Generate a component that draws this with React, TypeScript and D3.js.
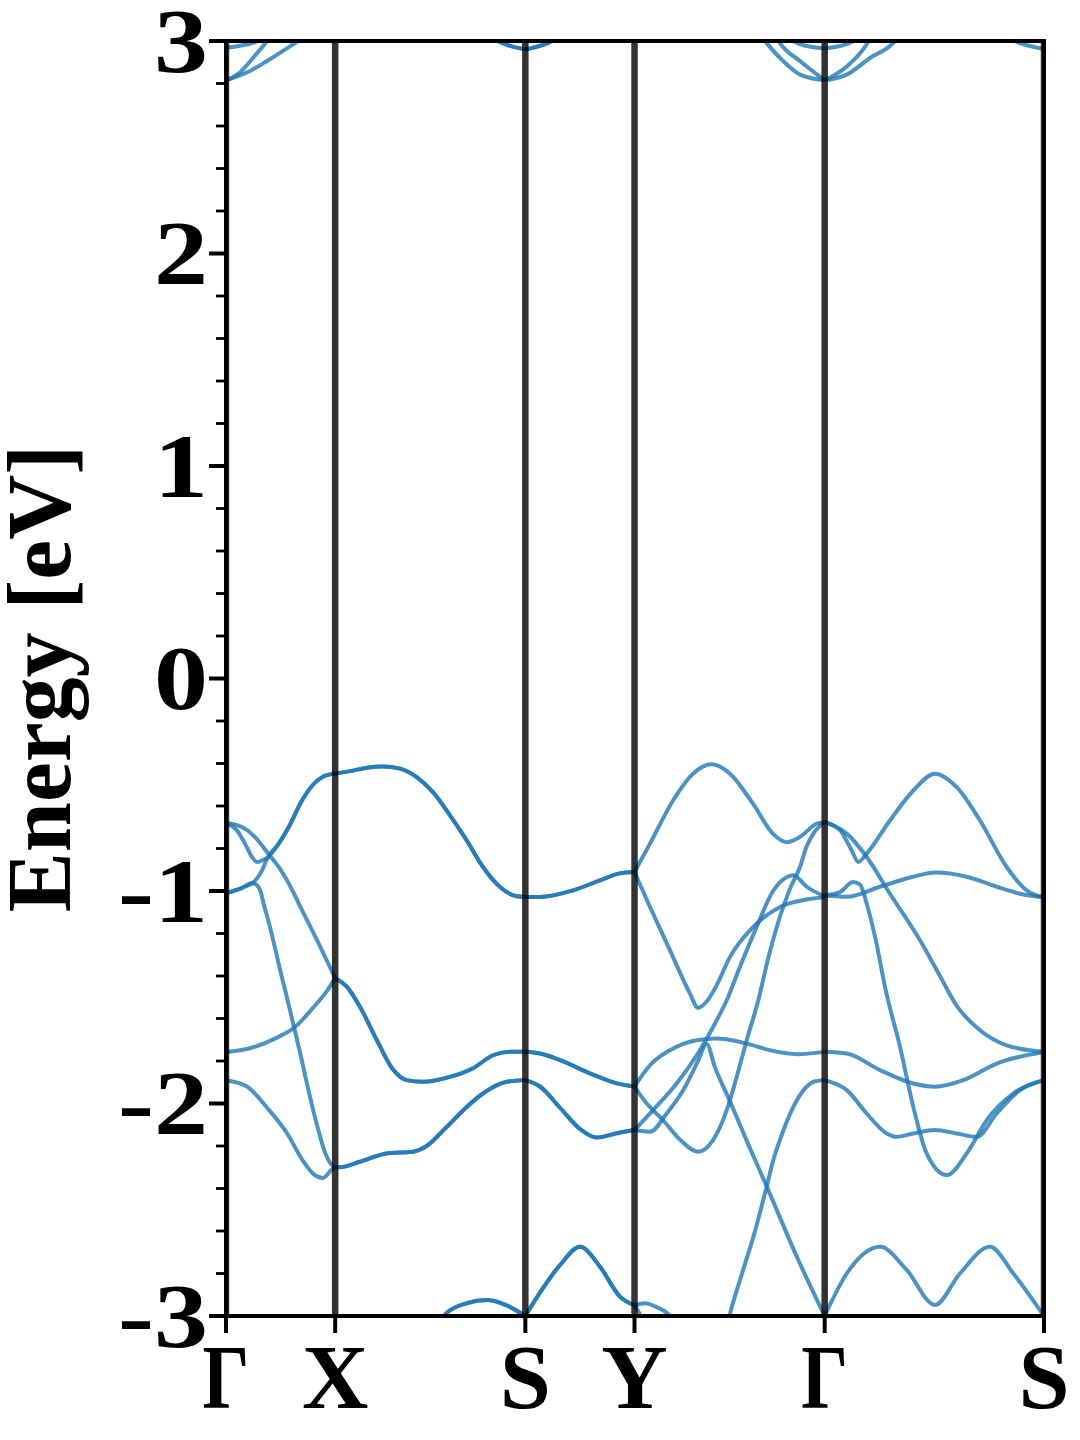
import React from "react";
import * as d3 from "d3";

type Pt = [number, number];

// High-symmetry path (k in units of a* ; Γ-X = 1)
const kLabels = ["Γ", "X", "S", "Y", "Γ", "S"];
const kTicks = [0, 1, 2.742, 3.742, 5.484, 7.493];
const energyTicks = [-3, -2, -1, 0, 1, 2, 3];
const energyMinor = [-2.8, -2.6, -2.4, -2.2, -1.8, -1.6, -1.4, -1.2, -0.8, -0.6, -0.4, -0.2, 0.2, 0.4, 0.6, 0.8, 1.2, 1.4, 1.6, 1.8, 2.2, 2.4, 2.6, 2.8];

// Γ → X
const bandsGX: Pt[][] = [
  [[0, -0.68], [0.101, -0.715], [0.174, -0.777], [0.238, -0.84], [0.284, -0.864], [0.33, -0.856], [0.376, -0.845], [0.483, -0.777], [0.575, -0.699], [0.696, -0.574], [0.797, -0.5], [0.888, -0.462], [1, -0.447]],
  [[0, -1.01], [0.147, -0.985], [0.254, -0.958], [0.33, -0.903], [0.376, -0.848], [0.483, -0.777], [0.575, -0.699], [0.696, -0.574], [0.797, -0.5], [0.888, -0.462], [1, -0.447]],
  [[0, -0.68], [0.147, -0.699], [0.266, -0.746], [0.376, -0.817], [0.483, -0.887], [0.575, -0.965], [0.712, -1.106], [0.861, -1.26], [1, -1.41]],
  [[0, -1.01], [0.147, -0.985], [0.238, -0.962], [0.284, -0.973], [0.314, -0.997], [0.345, -1.06], [0.403, -1.17], [0.495, -1.37], [0.586, -1.56], [0.678, -1.76], [0.77, -1.97], [0.843, -2.12], [0.907, -2.23], [0.962, -2.285], [1, -2.3]],
  [[0, -1.758], [0.22, -1.74], [0.467, -1.69], [0.632, -1.64], [0.797, -1.55], [0.925, -1.47], [1, -1.41]],
  [[0, -1.89], [0.192, -1.92], [0.376, -2.02], [0.559, -2.14], [0.705, -2.27], [0.797, -2.33], [0.888, -2.35], [0.971, -2.31], [1, -2.3]],
  [[0, 2.968], [0.128, 2.978], [0.266, 2.995], [0.403, 3.03]],
  [[0, 2.815], [0.128, 2.852], [0.247, 2.92], [0.376, 3.0], [0.449, 3.05]],
  [[0, 2.815], [0.22, 2.859], [0.376, 2.906], [0.632, 2.99], [0.724, 3.02]],
];

// X → S (two-fold degenerate)
const bandsXS: Pt[][] = [
  [[1, -0.447], [1.136, -0.436], [1.289, -0.42], [1.438, -0.414], [1.594, -0.424], [1.747, -0.464], [1.896, -0.535], [2.052, -0.644], [2.205, -0.762], [2.354, -0.887], [2.51, -0.981], [2.663, -1.025], [2.742, -1.028]],
  [[1, -1.41], [1.106, -1.45], [1.227, -1.545], [1.38, -1.7], [1.53, -1.84], [1.655, -1.89], [1.805, -1.898], [2.052, -1.875], [2.263, -1.834], [2.446, -1.773], [2.601, -1.757], [2.742, -1.757]],
  [[1, -2.3], [1.044, -2.3], [1.227, -2.274], [1.472, -2.235], [1.713, -2.227], [1.838, -2.2], [2.022, -2.11], [2.205, -2.016], [2.354, -1.953], [2.571, -1.898], [2.742, -1.89]],
  [[1.96, -3.03], [2.022, -2.986], [2.205, -2.94], [2.388, -2.925], [2.571, -2.95], [2.742, -3.0]],
  [[2.418, 3.02], [2.556, 2.985], [2.742, 2.96]],
];

// S → Y (two-fold degenerate)
const bandsSY: Pt[][] = [
  [[2.742, -1.028], [2.876, -1.028], [3.179, -0.997], [3.426, -0.95], [3.609, -0.917], [3.742, -0.911]],
  [[2.742, -1.757], [2.876, -1.765], [3.06, -1.796], [3.334, -1.858], [3.579, -1.905], [3.742, -1.92]],
  [[2.742, -1.89], [2.876, -1.92], [3.06, -2.02], [3.243, -2.12], [3.396, -2.16], [3.579, -2.14], [3.742, -2.125]],
  [[2.742, -3.0], [2.876, -2.89], [3.06, -2.76], [3.243, -2.674], [3.426, -2.768], [3.609, -2.909], [3.742, -2.95]],
  [[2.742, 2.96], [2.922, 2.985], [3.06, 3.02]],
];

// Y → Γ
const bandsYG: Pt[][] = [
  [[3.742, -0.911], [3.884, -0.777], [4.095, -0.574], [4.278, -0.448], [4.449, -0.404], [4.617, -0.448], [4.827, -0.589], [5.011, -0.731], [5.136, -0.77], [5.258, -0.745], [5.411, -0.683], [5.484, -0.676]],
  [[3.742, -0.911], [3.884, -1.075], [4.067, -1.279], [4.25, -1.483], [4.324, -1.55], [4.403, -1.52], [4.488, -1.45], [4.617, -1.31], [4.83, -1.169], [5.075, -1.075], [5.319, -1.04], [5.484, -1.03]],
  [[3.742, -1.92], [3.884, -1.82], [4.067, -1.749], [4.312, -1.702], [4.495, -1.694], [4.77, -1.718], [4.983, -1.749], [5.228, -1.768], [5.484, -1.757]],
  [[3.742, -1.92], [3.838, -1.99], [4.006, -2.08], [4.159, -2.17], [4.324, -2.227], [4.461, -2.172], [4.587, -2.031], [4.678, -1.875], [4.77, -1.702], [4.876, -1.514], [4.965, -1.32], [5.075, -1.12], [5.166, -0.99], [5.258, -0.887], [5.319, -0.79], [5.38, -0.73], [5.484, -0.676]],
  [[3.742, -2.125], [3.914, -2.03], [4.128, -1.906], [4.312, -1.773], [4.495, -1.608], [4.587, -1.514], [4.708, -1.357], [4.861, -1.169], [5.011, -1.0], [5.136, -0.935], [5.197, -0.926], [5.319, -0.98], [5.484, -1.025]],
  [[3.742, -2.125], [3.884, -2.133], [4.037, -2.047], [4.189, -1.937], [4.324, -1.8], [4.403, -1.72], [4.479, -1.83], [4.617, -1.99], [4.782, -2.19], [4.953, -2.39], [5.228, -2.72], [5.484, -3.0]],
  [[4.589, -3.05], [4.617, -2.99], [4.727, -2.8], [4.846, -2.6], [4.953, -2.39], [5.011, -2.27], [5.075, -2.17], [5.166, -2.05], [5.286, -1.94], [5.395, -1.895], [5.484, -1.89]],
  [[3.742, -2.95], [3.838, -2.94], [3.93, -2.955], [4.049, -2.99], [4.113, -3.03]],
  [[3.742, -2.95], [3.79, -2.99], [3.838, -3.04]],
  [[4.892, 3.03], [4.953, 2.99], [5.075, 2.92], [5.258, 2.842], [5.484, 2.815]],
  [[5.029, 3.03], [5.075, 2.99], [5.258, 2.906], [5.484, 2.815]],
  [[5.166, 3.01], [5.258, 2.985], [5.368, 2.972], [5.484, 2.966]],
];

// Γ → S
const bandsGS: Pt[][] = [
  [[5.484, -0.676], [5.625, -0.714], [5.731, -0.809], [5.792, -0.863], [5.869, -0.824], [6.082, -0.668], [6.296, -0.527], [6.494, -0.448], [6.693, -0.511], [6.907, -0.668], [7.151, -0.887], [7.334, -0.997], [7.493, -1.03]],
  [[5.484, -0.676], [5.686, -0.73], [5.869, -0.84], [6.082, -1.013], [6.357, -1.232], [6.54, -1.4], [6.693, -1.54], [6.907, -1.655], [7.151, -1.726], [7.493, -1.757]],
  [[5.484, -1.02], [5.625, -1.005], [5.743, -0.958], [5.808, -0.97], [5.869, -1.06], [5.96, -1.25], [6.036, -1.45], [6.174, -1.733], [6.296, -2.016], [6.418, -2.235], [6.602, -2.337], [6.785, -2.235], [6.968, -2.078], [7.212, -1.953], [7.493, -1.89]],
  [[5.484, -1.02], [5.686, -1.027], [5.991, -0.98], [6.296, -0.933], [6.494, -0.913], [6.785, -0.933], [7.06, -0.98], [7.273, -1.013], [7.493, -1.03]],
  [[5.484, -1.757], [5.686, -1.765], [5.991, -1.843], [6.296, -1.906], [6.494, -1.921], [6.754, -1.89], [7.06, -1.812], [7.493, -1.757]],
  [[5.484, -1.89], [5.686, -1.937], [5.869, -2.047], [6.052, -2.141], [6.144, -2.157], [6.296, -2.141], [6.494, -2.125], [6.693, -2.141], [6.876, -2.157], [7.06, -2.047], [7.273, -1.937], [7.493, -1.89]],
  [[5.484, -3.0], [5.686, -2.8], [5.991, -2.674], [6.235, -2.783], [6.494, -2.948], [6.723, -2.8], [6.998, -2.674], [7.212, -2.8], [7.493, -3.0]],
  [[5.484, 2.815], [5.686, 2.842], [5.899, 2.92], [6.11, 2.99], [6.174, 3.03]],
  [[5.484, 2.815], [5.686, 2.88], [5.869, 2.985], [5.918, 3.03]],
  [[5.484, 2.966], [5.686, 2.985], [5.789, 3.01]],
  [[7.136, 3.02], [7.273, 2.99], [7.493, 2.962]],
];

const segments: { bands: Pt[][]; degeneracy: number }[] = [
  { bands: bandsGX, degeneracy: 1 },
  { bands: bandsXS, degeneracy: 2 },
  { bands: bandsSY, degeneracy: 2 },
  { bands: bandsYG, degeneracy: 1 },
  { bands: bandsGS, degeneracy: 1 },
];

const W = 1080;
const H = 1440;
const FONT = "'Liberation Serif', 'Times New Roman', serif";

export default function App() {
  const x = d3.scaleLinear().domain([0, kTicks[kTicks.length - 1]]).range([226, 1044]);
  const y = d3.scaleLinear().domain([-3, 3]).range([1316, 41]);
  const line = d3
    .line<Pt>()
    .x((d) => x(d[0]))
    .y((d) => y(d[1]))
    .curve(d3.curveMonotoneX);

  const [x0, x1] = x.range();
  const [y0, y1] = y.range();

  const paths: JSX.Element[] = [];
  segments.forEach((seg, si) => {
    seg.bands.forEach((b, bi) => {
      for (let r = 0; r < seg.degeneracy; r++) {
        paths.push(
          <path
            key={`b-${si}-${bi}-${r}`}
            d={line(b) || ""}
            fill="none"
            stroke="#1f77b4"
            strokeOpacity={0.8}
            strokeWidth={4}
            strokeLinejoin="round"
          />
        );
      }
    });
  });

  return (
    <svg
      width={W}
      height={H}
      viewBox={`0 0 ${W} ${H}`}
      style={{ position: "absolute", left: 0, top: 0, background: "#fff" }}
    >
      <defs>
        <clipPath id="plotClip">
          <rect x={x0} y={y1} width={x1 - x0} height={y0 - y1} />
        </clipPath>
      </defs>
      <rect x={0} y={0} width={W} height={H} fill="#fff" />
      <g clipPath="url(#plotClip)">{paths}</g>
      <g clipPath="url(#plotClip)">
        {kTicks.map((k, i) => (
          <line key={`v-${i}`} x1={x(k)} x2={x(k)} y1={y1} y2={y0} stroke="#000" strokeOpacity={0.8} strokeWidth={6.5} />
        ))}
      </g>
      {/* spines */}
      <rect x={x0} y={y1} width={x1 - x0} height={y0 - y1} fill="none" stroke="#000" strokeWidth={4} />
      {/* y ticks */}
      {energyTicks.map((e) => (
        <line key={`yt-${e}`} x1={x0 - 17} x2={x0} y1={y(e)} y2={y(e)} stroke="#000" strokeWidth={4} />
      ))}
      {energyMinor.map((e) => (
        <line key={`ym-${e}`} x1={x0 - 10} x2={x0} y1={y(e)} y2={y(e)} stroke="#000" strokeWidth={2.8} />
      ))}
      {energyTicks.map((e) => (
        <text
          key={`yl-${e}`}
          transform={`translate(${x0 - 18}, ${y(e)}) scale(1.2, 1)`}
          dy="0.34em"
          textAnchor="end"
          fontFamily={FONT}
          fontWeight="bold"
          fontSize={90}
        >
          {e}
        </text>
      ))}
      {/* x ticks */}
      {kTicks.map((k, i) => (
        <line key={`xt-${i}`} x1={x(k)} x2={x(k)} y1={y0} y2={y0 + 17} stroke="#000" strokeWidth={4} />
      ))}
      {kTicks.map((k, i) => (
        <text
          key={`xl-${i}`}
          transform={`translate(${x(k)}, 1408) scale(${kLabels[i] === "Γ" ? 0.8 : 1}, 1)`}
          textAnchor="middle"
          fontFamily={FONT}
          fontWeight="bold"
          fontSize={92}
        >
          {kLabels[i]}
        </text>
      ))}
      <text
        transform={`translate(70, ${(y0 + y1) / 2}) rotate(-90)`}
        textAnchor="middle"
        fontFamily={FONT}
        fontWeight="bold"
        fontSize={90}
      >
        Energy [eV]
      </text>
    </svg>
  );
}
